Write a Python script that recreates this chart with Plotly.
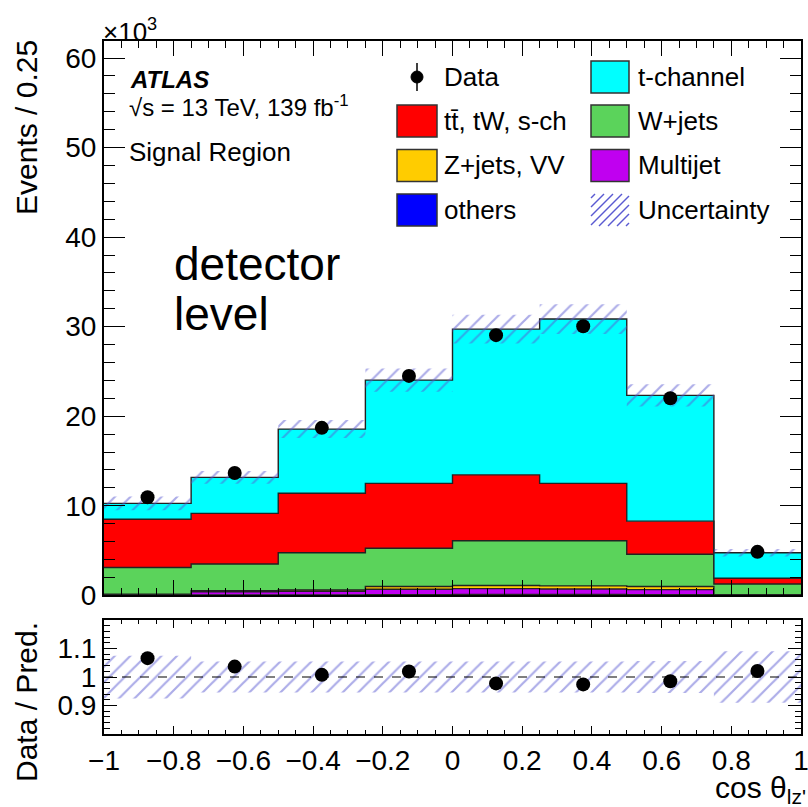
import plotly.graph_objects as go

# ---------------- data (values in units of 10^3 events) ----------------
edges = [-1.0, -0.75, -0.5, -0.25, 0.0, 0.25, 0.5, 0.75, 1.0]
centers = [-0.875, -0.625, -0.375, -0.125, 0.125, 0.375, 0.625, 0.875]

others = [0.02, 0.05, 0.05, 0.08, 0.10, 0.10, 0.08, 0.01]
multijet = [0.05, 0.35, 0.40, 0.60, 0.65, 0.60, 0.55, 0.02]
zjets_vv = [0.05, 0.10, 0.15, 0.30, 0.35, 0.35, 0.35, 0.03]
wjets = [2.98, 3.00, 4.15, 4.27, 5.00, 5.05, 3.60, 1.20]
ttbar = [5.40, 5.65, 6.65, 7.25, 7.35, 6.40, 3.70, 0.64]
tchannel = [1.77, 4.02, 7.16, 11.53, 16.27, 18.35, 14.05, 2.85]
data = [10.95, 13.65, 18.70, 24.50, 29.05, 30.05, 22.00, 4.85]
unc_rel = [0.075, 0.054, 0.054, 0.054, 0.054, 0.054, 0.056, 0.09]

components = [
    ("others", others, "#0000ff"),
    ("Multijet", multijet, "#c000f0"),
    ("Z+jets, VV", zjets_vv, "#ffcc00"),
    ("W+jets", wjets, "#5bd35b"),
    ("tt\u0304, tW, s-ch", ttbar, "#ff0000"),
    ("t-channel", tchannel, "#00ffff"),
]

FONT = "Liberation Sans, Arial, Helvetica, sans-serif"
W, H = 808, 807
L, R, T, B = 104, 7, 41, 73
PW, PH = W - L - R, H - T - B
HCOL = "#5a5ad2"


def px(xp):
    return (xp - L) / PW


def py(yp):
    return (H - B - yp) / PH


fig = go.Figure()

# ---------------- stacked histogram ----------------
cum = [0.0] * len(centers)
first = True
for name, vals, col in components:
    cum = [c + v for c, v in zip(cum, vals)]
    fig.add_trace(go.Scatter(
        x=edges, y=cum + [cum[-1]], mode="lines", line_shape="hv",
        line=dict(color="#222222", width=1.4),
        fill="tozeroy" if first else "tonexty", fillcolor=col,
        showlegend=False, hoverinfo="skip", xaxis="x", yaxis="y"))
    first = False
total = cum

# ---------------- uncertainty hatch (main) ----------------
def band_poly(lo, hi):
    xs, ys = [], []
    for i in range(len(centers)):
        x0, x1 = edges[i], edges[i + 1]
        xs += [x0, x1, x1, x0, x0, None]
        ys += [lo[i], lo[i], hi[i], hi[i], lo[i], None]
    return xs, ys


HATCH = dict(shape="/", fgcolor=HCOL, bgcolor="rgba(0,0,0,0)", size=11, solidity=0.2)

lo = [t * (1 - u) for t, u in zip(total, unc_rel)]
hi = [t * (1 + u) for t, u in zip(total, unc_rel)]
bx, by = band_poly(lo, hi)
fig.add_trace(go.Scatter(x=bx, y=by, mode="lines", line=dict(width=0), fill="toself",
                         fillcolor="rgba(0,0,0,0)", fillpattern=HATCH,
                         showlegend=False, hoverinfo="skip", xaxis="x", yaxis="y"))

# data points
fig.add_trace(go.Scatter(x=centers, y=data, mode="markers",
                         marker=dict(color="black", size=14),
                         showlegend=False, xaxis="x", yaxis="y"))

# ---------------- ratio panel ----------------
ratio = [d / t for d, t in zip(data, total)]
rlo = [1 - u for u in unc_rel]
rhi = [1 + u for u in unc_rel]
rx, ry = band_poly(rlo, rhi)
fig.add_trace(go.Scatter(x=rx, y=ry, mode="lines", line=dict(width=0), fill="toself",
                         fillcolor="rgba(0,0,0,0)", fillpattern=HATCH,
                         showlegend=False, hoverinfo="skip", xaxis="x2", yaxis="y2"))
fig.add_trace(go.Scatter(x=centers, y=ratio, mode="markers",
                         marker=dict(color="black", size=14),
                         showlegend=False, xaxis="x2", yaxis="y2"))

# ---------------- axes ----------------
common = dict(showline=True, linecolor="black", linewidth=2, mirror="ticks",
              ticks="inside", tickcolor="black", showgrid=False, zeroline=False,
              automargin=False, ticklabeloverflow="allow",
              tickfont=dict(family=FONT, size=28, color="black"))

fig.update_layout(
    width=W, height=H,
    margin=dict(l=L, r=R, t=T, b=B),
    paper_bgcolor="white", plot_bgcolor="white",
    font=dict(family=FONT, color="black"),
    showlegend=False,
    xaxis=dict(domain=[0, 1], anchor="y", range=[-1, 1], tick0=-1, dtick=0.2,
               ticklen=15, tickwidth=1.2, showticklabels=False,
               minor=dict(ticks="inside", ticklen=7, dtick=0.05, tick0=-1, tickcolor="black", tickwidth=1.2),
               **common),
    yaxis=dict(domain=[(H - B - 595.3) / PH, 1], anchor="x", range=[0, 61.9], tick0=0, dtick=10,
               ticklen=21, tickwidth=1.2,
               minor=dict(ticks="inside", ticklen=11, dtick=2, tick0=0, tickcolor="black", tickwidth=1.2),
               **common),
    xaxis2=dict(domain=[0, 1], anchor="y2", range=[-1, 1], tick0=-1, dtick=0.2,
                ticklen=8, tickwidth=1.2, tickangle=0,
                minor=dict(ticks="inside", ticklen=4, dtick=0.05, tick0=-1, tickcolor="black", tickwidth=1.2),
                **common),
    yaxis2=dict(domain=[0, (H - B - 620) / PH], anchor="x2", range=[0.8, 1.2],
                tickmode="array", tickvals=[0.9, 1.0, 1.1], ticktext=["0.9", "1", "1.1"],
                ticklen=13, tickwidth=1.2,
                minor=dict(ticks="inside", ticklen=6, dtick=0.02, tick0=0.8, tickcolor="black", tickwidth=1.2),
                **common),
)

fig.add_shape(type="line", xref="x2", yref="y2", x0=-1, x1=1, y0=1, y1=1,
              line=dict(color="black", width=1.2, dash="dash"))

# ---------------- texts ----------------
def text(s, xp, yp, size, xanchor="left", yanchor="middle", angle=0):
    fig.add_annotation(text=s, x=px(xp), y=py(yp), xref="paper", yref="paper",
                       xanchor=xanchor, yanchor=yanchor, showarrow=False, textangle=angle,
                       borderpad=0, font=dict(family=FONT, size=size, color="black"))


text("\u00d710<sup>3</sup>", 102, 30, 26)
text("<b><i>ATLAS</i></b>", 129, 80, 24)
text("\u221as = 13 TeV, 139 fb<sup>-1</sup>", 128, 106, 24)
text("Signal Region", 128, 152, 26)
text("detector", 173, 264, 46)
text("level", 173, 314, 46)
text("Events / 0.25", 27, 128, 30, xanchor="center", angle=-90)
text("Data / Pred.", 26, 702, 30, xanchor="center", angle=-90)
text("cos \u03b8<sub>lz'</sub>", 807, 789, 30, xanchor="right")

# ---------------- legend (manual) ----------------
leg_rows = [77, 121, 165.5, 210]
col1_sw, col2_sw = (397, 437), (591, 629)
sw_h = 32
col1_tx, col2_tx = 443, 637
legend_boxes = [
    (col1_sw, col1_tx, leg_rows[1], "tt\u0304, tW, s-ch", "#ff0000"),
    (col1_sw, col1_tx, leg_rows[2], "Z+jets, VV", "#ffcc00"),
    (col1_sw, col1_tx, leg_rows[3], "others", "#0000ff"),
    (col2_sw, col2_tx, leg_rows[0], "t-channel", "#00ffff"),
    (col2_sw, col2_tx, leg_rows[1], "W+jets", "#5bd35b"),
    (col2_sw, col2_tx, leg_rows[2], "Multijet", "#c000f0"),
]
for (sx0, sx1), tx, yc, label, col in legend_boxes:
    fig.add_shape(type="rect", xref="paper", yref="paper",
                  x0=px(sx0), x1=px(sx1), y0=py(yc + sw_h / 2), y1=py(yc - sw_h / 2),
                  fillcolor=col, line=dict(color="#333333", width=1.5))
    text(label, tx, yc, 26)

# Data entry
fig.add_shape(type="line", xref="paper", yref="paper", x0=px(417), x1=px(417),
              y0=py(63), y1=py(91), line=dict(color="black", width=1.5))
fig.add_shape(type="circle", xref="paper", yref="paper", x0=px(411), x1=px(423),
              y0=py(83), y1=py(71), fillcolor="black", line=dict(color="black", width=1))
text("Data", col1_tx, leg_rows[0], 26)

# Uncertainty entry: hatch lines
ux0, ux1 = col2_sw
uy_top, uy_bot = leg_rows[3] - sw_h / 2, leg_rows[3] + sw_h / 2
w_, h_ = ux1 - ux0, uy_bot - uy_top
step = 9
c = -h_ + 4
while c < w_:
    u0, u1 = max(0, c), min(w_, h_ + c)
    if u1 > u0:
        fig.add_shape(type="line", xref="paper", yref="paper",
                      x0=px(ux0 + u0), y0=py(uy_bot - (u0 - c)),
                      x1=px(ux0 + u1), y1=py(uy_bot - (u1 - c)),
                      line=dict(color=HCOL, width=1.4))
    c += step
text("Uncertainty", col2_tx, leg_rows[3], 26)

fig.write_html("out.html")
